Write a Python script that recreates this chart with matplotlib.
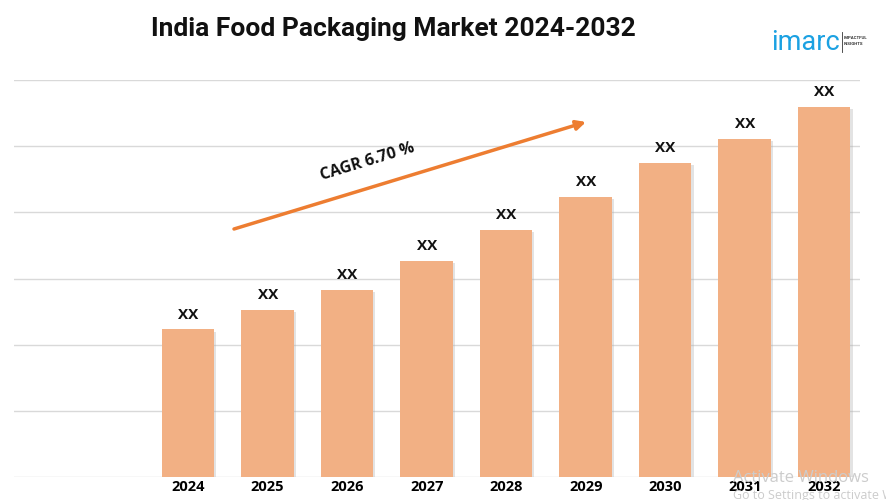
import numpy as np
import matplotlib.pyplot as plt
from matplotlib import patheffects as pe

# data (in gridline units)
years = ['2024', '2025', '2026', '2027', '2028', '2029', '2030', '2031', '2032']
values = [2.23, 2.52, 2.82, 3.27, 3.74, 4.23, 4.74, 5.11, 5.59]
bar_labels = ['XX'] * len(years)
cagr_text = 'CAGR 6.70 %'

fig = plt.figure(figsize=(8.86, 5.0), dpi=100)
ax = fig.add_axes([14 / 886, 23 / 500, 846 / 886, 397 / 500])

x = np.arange(len(years))
bars = ax.bar(x, values, width=0.66, color='#F2B084', zorder=3)
for b in bars:
    b.set_path_effects([pe.SimplePatchShadow(offset=(1.5, -1.5), shadow_rgbFace='#b0b0b0', alpha=0.35), pe.Normal()])

for xi, v, lab in zip(x, values, bar_labels):
    ax.text(xi, v + 0.12, lab, ha='center', va='bottom', fontsize=11,
            fontweight='bold', family='Open Sans', color='#111111')

ax.set_xlim(-2.19, 8.45)
ax.set_ylim(0, 6)
ax.set_yticks(np.arange(0, 7, 1))
ax.yaxis.grid(True, color='#d9d9d9', linewidth=1, zorder=0)
ax.set_yticklabels([])
ax.tick_params(axis='y', length=0)
ax.set_xticks(x)
ax.set_xticklabels(years, fontsize=10.5, fontweight='bold', family='Open Sans')
ax.tick_params(axis='x', length=0, pad=2)
for s in ax.spines.values():
    s.set_visible(False)

# CAGR arrow
ax.annotate('', xy=(586 / 886, 1 - 122 / 500), xytext=(234 / 886, 1 - 229 / 500),
            xycoords='figure fraction', textcoords='figure fraction',
            arrowprops=dict(arrowstyle='-|>', color='#ED7D31', lw=2.5,
                            mutation_scale=14, shrinkA=0, shrinkB=0), zorder=4)
fig.text(368 / 886, 1 - 162 / 500, cagr_text, rotation=17, ha='center', va='center',
         fontsize=11.5, fontweight='bold', family='Open Sans', color='#111111')

fig.text(393 / 886, 1 - 29 / 500, 'India Food Packaging Market 2024-2032', ha='center',
         va='center', fontsize=19, fontweight='bold', family='Roboto', color='#111111')

# logo
fig.text(771 / 886, 1 - 43 / 500, 'imarc', ha='left', va='center', fontsize=19.5,
         family='Roboto', color='#1BA1E2')
fig.text(844 / 886, 1 - 41 / 500, 'IMPACTFUL\nINSIGHTS', ha='left', va='center',
         fontsize=3.2, fontweight='bold', family='Roboto', color='#333333', linespacing=1.4)
fig.add_artist(plt.Line2D([842 / 886, 842 / 886], [1 - 32 / 500, 1 - 52 / 500],
                          color='#333333', lw=0.6))

# watermark overlay seen in the picture
fig.text(733 / 886, 1 - 478 / 500, 'Activate Windows', fontsize=12, color='#cccccc',
         family='Open Sans', va='center', ha='left', zorder=0)
fig.text(733 / 886, 1 - 496 / 500, 'Go to Settings to activate Windows.', fontsize=9,
         color='#cccccc', family='Open Sans', va='center', ha='left', zorder=0)

fig.savefig('out.png', dpi=100)
